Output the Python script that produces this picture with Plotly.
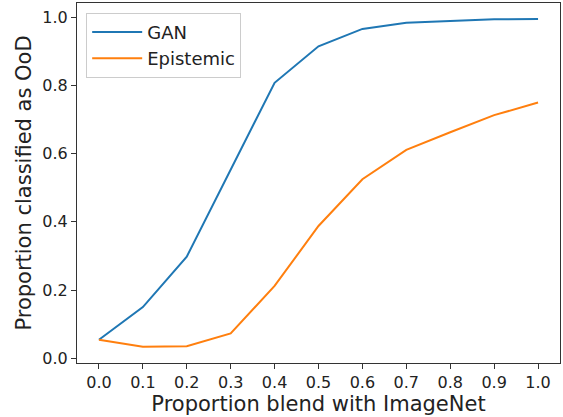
import plotly.graph_objects as go

blend = [0.0, 0.1, 0.2, 0.3, 0.4, 0.5, 0.6, 0.7, 0.8, 0.9, 1.0]
gan = [0.054, 0.150, 0.298, 0.553, 0.808, 0.915, 0.966, 0.984, 0.989, 0.994, 0.995]
epistemic = [0.054, 0.034, 0.035, 0.073, 0.212, 0.388, 0.525, 0.611, 0.663, 0.713, 0.750]
x_ticks = [0.0, 0.1, 0.2, 0.3, 0.4, 0.5, 0.6, 0.7, 0.8, 0.9, 1.0]
y_ticks = [0.0, 0.2, 0.4, 0.6, 0.8, 1.0]

fig = go.Figure()
fig.add_trace(go.Scatter(x=blend, y=gan, mode="lines", name="GAN",
                         line=dict(color="#1f77b4", width=2)))
fig.add_trace(go.Scatter(x=blend, y=epistemic, mode="lines", name="Epistemic",
                         line=dict(color="#ff7f0e", width=2)))

axis_common = dict(showline=True, linecolor="#333333", linewidth=1.2, mirror=True,
                   ticks="outside", ticklen=5, tickwidth=1.2, tickcolor="#333333",
                   showgrid=False, zeroline=False,
                   tickfont=dict(size=16, color="#222222"))

fig.update_layout(
    width=563, height=417,
    margin=dict(l=77, r=3, t=3, b=54),
    paper_bgcolor="white", plot_bgcolor="white",
    font=dict(family="DejaVu Sans", color="#222222"),
    xaxis=dict(range=[-0.05, 1.05], tickvals=x_ticks,
               ticktext=[f"{v:.1f}" for v in x_ticks],
               title=dict(text="Proportion blend with ImageNet", font=dict(size=21), standoff=3),
               **axis_common),
    yaxis=dict(range=[-0.014, 1.042], tickvals=y_ticks,
               ticktext=[f"{v:.1f}" for v in y_ticks],
               title=dict(text="Proportion classified as OoD", font=dict(size=21), standoff=4),
               **axis_common),
    legend=dict(x=0.019, y=0.973, xanchor="left", yanchor="top",
                bgcolor="white", bordercolor="#cccccc", borderwidth=1,
                itemwidth=50,
                font=dict(size=18, color="#222222")),
    showlegend=True,
)

fig.write_html("out.html")
